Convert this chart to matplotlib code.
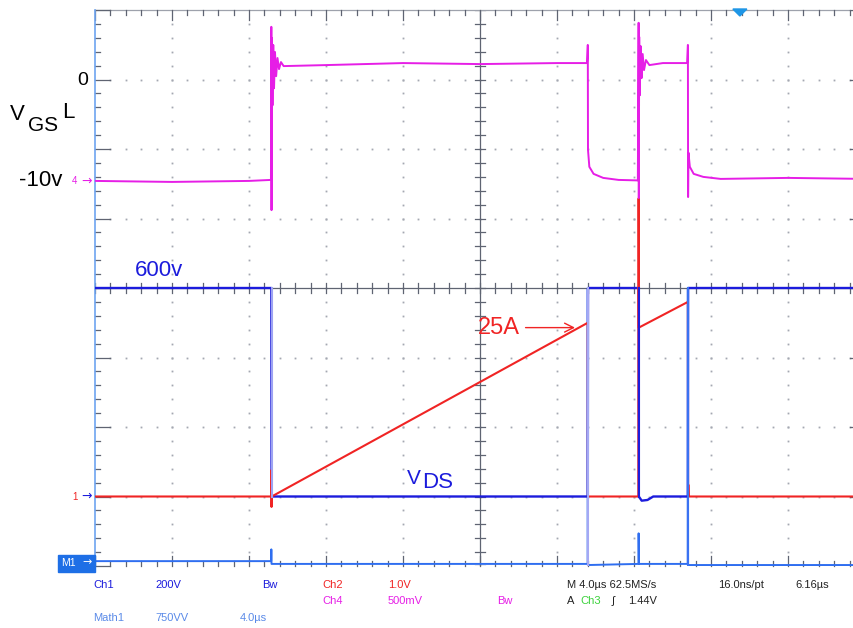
import numpy as np
import matplotlib
matplotlib.use("Agg")
import matplotlib.pyplot as plt
from matplotlib.patches import Polygon, Rectangle

us_per_div = 4.0          # horizontal scale
# VGS (low side gate voltage), volts
vgs_t = [0.0, 4.0, 8.0, 9.14, 9.16, 9.17, 9.19, 9.22, 9.26, 9.30, 9.35, 9.41, 9.48,
         9.56, 9.66, 9.80, 12.0, 16.0, 20.0, 24.0, 25.56, 25.60, 25.61, 25.68, 25.90,
         26.4, 27.2, 28.20, 28.24, 28.25, 28.27, 28.30, 28.34, 28.39, 28.45, 28.52,
         28.62, 28.80, 29.5, 30.76, 30.80, 30.81, 30.83, 30.90, 31.10, 31.6, 32.5,
         36.0, 40.0]
vgs_v = [-10.0, -10.1, -10.0, -9.9, 5.3, -12.9, 4.2, -2.5, 3.5, -0.8, 2.8, 0.4, 2.2,
         1.1, 1.8, 1.4, 1.5, 1.7, 1.6, 1.7, 1.7, 3.5, -6.9, -8.6, -9.3,
         -9.7, -9.9, -9.95, 5.7, -11.7, 4.3, -1.5, 3.4, 0.2, 2.6, 1.0,
         2.0, 1.5, 1.7, 1.7, 3.5, -11.6, -7.2, -8.6, -9.3, -9.6, -9.8,
         -9.7, -9.8]

# VDS (Ch1), volts
vds_t = [0.0, 9.16, 9.17, 25.60, 25.61, 28.24, 28.25, 28.40, 28.70, 29.0, 30.80, 30.81, 40.0]
vds_v = [600, 600, 0, 0, 600, 600, 0, -12, -10, 0, 0, 600, 600]

# Drain current (Ch2), amps
id_t = [0.0, 9.15, 9.16, 9.17, 9.18, 25.60, 25.61, 28.23, 28.24, 28.25, 30.80, 30.81,
        30.82, 30.84, 40.0]
id_a = [0.0, 0.0, 3.8, -1.5, 0.0, 25.0, 0.0, 0.0, 42.9, 24.3, 28.0, 0.0,
        1.7, 0.0, 0.0]

# Math1 (Ch1 x Ch2), VA
m1_t = [0.0, 9.15, 9.16, 9.17, 25.59, 25.60, 25.61, 28.23, 28.24, 28.26, 30.79,
        30.80, 30.81, 40.0]
m1_v = [15, 15, 142, -15, -15, 2960, -27, -15, 315, -15, -15, 2960, -27, -27]

trigger_t = 33.5

# channel scales / reference positions (divisions from bottom)
vgs_ref_div, vgs_v_per_div = 6.99, 6.9
vds_ref_div, vds_v_per_div = 1.0, 200.0
id_ref_div, id_a_per_div = 1.0, 10.0
m1_ref_div, m1_per_div = 0.05, 750.0

# ---------------- styling ----------------
C_VGS = "#e61ee6"
C_VDS = "#1c1cdc"
C_ID = "#f02424"
C_M1 = "#2f6ef0"
C_GRID = "#5f6472"
C_DOT = "#a4a8b2"

W, H = 854, 628
fig = plt.figure(figsize=(W / 100, H / 100), dpi=100)
fig.patch.set_facecolor("white")
L, R, T, B = 95, 854, 10, 566
ax = fig.add_axes([L / W, 1 - B / H, (R - L) / W, (B - T) / H])
xmax = (R - L) / 77.0
ax.set_xlim(0, xmax)
ax.set_ylim(0, 8)
ax.axis("off")

def xd(t):
    return np.asarray(t, float) / us_per_div

# ---- graticule ----
minor = np.arange(0, 10.001, 0.2)
minor_y = np.arange(0, 8.001, 0.2)
px_x = 1 / 77.0
px_y = 1 / 69.5
for i in range(1, 10):
    if i == 5:
        continue
    ys = minor_y[(minor_y > 0.05) & (minor_y < 7.95)]
    ax.plot(np.full_like(ys, i), ys, ls="none", marker="s", ms=1.3, color=C_DOT, mec="none")
for j in range(1, 8):
    if j == 4:
        continue
    xs = minor[(minor > 0.05) & (minor < 9.95)]
    ax.plot(xs, np.full_like(xs, j), ls="none", marker="s", ms=1.3, color=C_DOT, mec="none")

# centre cross
ax.plot([5, 5], [0, 8], color=C_GRID, lw=0.9)
ax.plot([0, 10], [4, 4], color=C_GRID, lw=0.9)
for y in minor_y:
    ax.plot([5 - 5 * px_x, 5 + 5 * px_x], [y, y], color=C_GRID, lw=0.9)
for x in minor:
    ax.plot([x, x], [4 - 5 * px_y, 4 + 5 * px_y], color=C_GRID, lw=0.9)

# top border and ticks
ax.plot([0, 10], [8, 8], color="#9ea2ac", lw=0.9, clip_on=False)
for x in minor:
    ln = 10 if abs(x - round(x)) < 1e-6 else 5
    ax.plot([x, x], [8, 8 - ln * px_y], color=C_GRID, lw=0.9, clip_on=False)
    ax.plot([x, x], [0, 0 + ln * px_y], color=C_GRID, lw=0.9, clip_on=False)
# left border and ticks
for y in minor_y:
    ln = 15 if abs(y - round(y)) < 1e-6 else 5
    ax.plot([0, ln * px_x], [y, y], color=C_GRID, lw=0.9, clip_on=False)
    ax.plot([10, 10 - ln * px_x], [y, y], color=C_GRID, lw=0.9)
ax.plot([0, 0], [0, 8], color="#6ea4f0", lw=1.2, clip_on=False)

# ---- traces ----
m1_y = m1_ref_div + np.asarray(m1_v) / m1_per_div
ax.plot(xd(m1_t), m1_y, color=C_M1, lw=1.4, clip_on=False, zorder=3)

vds_y = vds_ref_div + np.asarray(vds_v) / vds_v_per_div
ax.plot(xd(vds_t), vds_y, color=C_VDS, lw=1.7, zorder=4)
edge_cols = ["#9ea3f2", "#a4a8f4", C_VDS, "#3a72f2"]
k = 0
for a, b, ya, yb in zip(vds_t[:-1], vds_t[1:], vds_y[:-1], vds_y[1:]):
    if abs(yb - ya) > 2.5:
        lo = min(ya, yb)
        mlo = m1_y.min()
        bottom = mlo if k in (1, 3) else lo
        ax.plot([xd(b), xd(b)], [bottom, max(ya, yb)], color=edge_cols[k % 4], lw=1.5, zorder=5)
        k += 1

id_y = id_ref_div + np.asarray(id_a) / id_a_per_div
ax.plot(xd(id_t), id_y, color=C_ID, lw=1.5, zorder=4)
vgs_y = vgs_ref_div + np.asarray(vgs_v) / vgs_v_per_div
ax.plot(xd(vgs_t), vgs_y, color=C_VGS, lw=1.4, zorder=4)

# trigger marker
tx = xd(trigger_t)
ax.add_patch(Polygon([[tx - 7 * px_x, 8 + 1 * px_y], [tx + 7 * px_x, 8 + 1 * px_y],
                      [tx, 8 - 6 * px_y]], closed=True, color="#1e96e6", clip_on=False, zorder=6))

# ---- annotations ----
lab = dict(family=["Liberation Sans", "DejaVu Sans"])
ax.text(-7 * px_x, vgs_ref_div, "0", ha="right", va="center", fontsize=14, color="black", clip_on=False, **lab)
ax.text(-33 * px_x, vgs_ref_div - 10 / vgs_v_per_div, "-10v", ha="right", va="center", fontsize=16, color="black", clip_on=False, **lab)
vy = (B - 120) / 69.5
ax.text(-85 * px_x, vy, "V", ha="left", va="baseline", fontsize=16, clip_on=False, **lab)
ax.text(-67 * px_x, vy - 11 * px_y, "GS", ha="left", va="baseline", fontsize=15, clip_on=False, **lab)
ax.text(-33 * px_x, vy + 2 * px_y, "L", ha="left", va="baseline", fontsize=16, clip_on=False, **lab)

ax.text(40 * px_x, vds_ref_div + 600 / vds_v_per_div + 7 * px_y, "600v", ha="left", va="bottom",
        fontsize=16, color=C_VDS, **lab)
vdx = (407 - L) / 77.0
ax.text(vdx, vds_ref_div + 13 * px_y, "V", ha="left", va="baseline", fontsize=15, color=C_VDS, **lab)
ax.text(vdx + 15 * px_x, vds_ref_div + 8 * px_y, "DS", ha="left", va="baseline", fontsize=16, color=C_VDS, **lab)

ax.annotate("25A", xy=(xd(25.6) - 10 * px_x, id_ref_div + 24.3 / id_a_per_div),
            xytext=((478 - L) / 77.0, id_ref_div + 24.3 / id_a_per_div), ha="left", va="center",
            fontsize=17, color=C_ID, family=["Liberation Sans", "DejaVu Sans"],
            arrowprops=dict(arrowstyle="->", color=C_ID, lw=1.0, mutation_scale=16))

# channel reference markers
ax.text(-23 * px_x, vgs_ref_div - 10 / vgs_v_per_div, "4", ha="left", va="center", fontsize=7,
        color=C_VGS, clip_on=False, **lab)
ax.text(-14 * px_x, vgs_ref_div - 10 / vgs_v_per_div, "→", ha="left", va="center", fontsize=9,
        color=C_VGS, clip_on=False, family=["DejaVu Sans"])
ax.text(-23 * px_x, vds_ref_div, "1", ha="left", va="center", fontsize=7, color=C_ID,
        clip_on=False, **lab)
ax.text(-14 * px_x, vds_ref_div, "→", ha="left", va="center", fontsize=9, color=C_VDS,
        clip_on=False, family=["DejaVu Sans"])
ax.add_patch(Rectangle((-37 * px_x, m1_ref_div - 9 * px_y), 37 * px_x, 17 * px_y,
                       color="#1e6fe6", clip_on=False, zorder=6))
ax.text(-34 * px_x, m1_ref_div, "M1", ha="left", va="center", fontsize=7.5, color="white",
        clip_on=False, zorder=7, **lab)
ax.text(-13 * px_x, m1_ref_div, "→", ha="left", va="center", fontsize=8, color="white",
        clip_on=False, zorder=7, family=["DejaVu Sans"])

# ---- status bar ----
sf = dict(family=["Liberation Sans Narrow", "Liberation Sans", "DejaVu Sans"], fontsize=8,
          va="center", ha="left")
def st(x, y, s, c):
    fig.text(x / W, 1 - y / H, s, color=c, **sf)

C_M1T = "#5a8ae8"
st(93, 585, "Ch1", C_VDS)
st(155, 585, "200V", C_VDS)
st(262, 585, "Bw", C_VDS)
st(322, 585, "Ch2", C_ID)
st(388, 585, "1.0V", C_ID)
st(567, 585, "M 4.0µs 62.5MS/s", "#222222")
st(718, 585, "16.0ns/pt", "#222222")
st(795, 585, "6.16µs", "#222222")
st(322, 601, "Ch4", C_VGS)
st(388, 601, "500mV", C_VGS)
st(497, 601, "Bw", C_VGS)
st(567, 601, "A", "#222222")
st(580, 601, "Ch3", "#3cd23c")
st(612, 601, "∫", "#222222")
st(628, 601, "1.44V", "#222222")
st(93, 618, "Math1", C_M1T)
st(155, 618, "750VV", C_M1T)
st(240, 618, "4.0µs", C_M1T)

fig.savefig("out.png", dpi=100)
